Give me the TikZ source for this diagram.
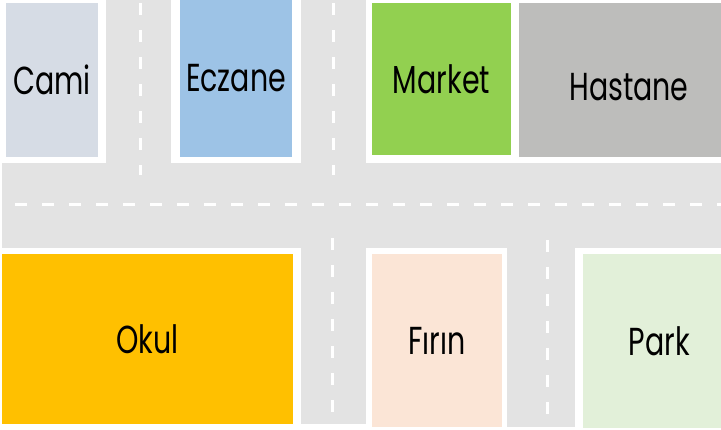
\documentclass[tikz,border=0pt]{standalone}
\usepackage{fontspec}
\setmainfont{Poppins}[FakeStretch=0.73]
\usepackage{tikz}
\definecolor{roadGrey}{HTML}{E3E3E3}
\definecolor{camiBlue}{HTML}{D6DCE5}
\definecolor{eczaneBlue}{HTML}{9DC3E6}
\definecolor{marketGreen}{HTML}{92D050}
\definecolor{hastaneGrey}{HTML}{BDBDBB}
\definecolor{okulYellow}{HTML}{FFC000}
\definecolor{firinPeach}{HTML}{FBE5D6}
\definecolor{parkGreen}{HTML}{E2F0D9}
\tikzset{
    % Roads
    roadPart/.style={fill=roadGrey, draw=none},
    laneLine/.style={draw=white, line width=3pt, dash pattern=on 12pt off 15pt},
    % Buildings
    building/.style={rectangle, draw=none, inner sep=0pt, font=\fontsize{39}{42}\selectfont}
}

\begin{document}
\begin{tikzpicture}[x=1pt, y=-1pt]
        \useasboundingbox (0,0) rectangle (721,430);

        % Roads
        \fill[roadPart] (2,163) rectangle (721,248);
        \fill[roadPart] (106,0) rectangle (171,163);
        \fill[roadPart] (301,0) rectangle (366,163);
        \fill[roadPart] (301,248) rectangle (366,424);
        \fill[roadPart] (507,248) rectangle (575,427);

        % Lane markings
        \draw[laneLine] (15,205) -- (721,205);
        \draw[laneLine] (140,3) -- (140,175);
        \draw[laneLine] (333,3) -- (333,175);
        \draw[laneLine] (332,238) -- (332,412);
        \draw[laneLine] (547,240) -- (547,414);

        % Buildings, top row
        \node[building, fill=camiBlue, minimum width=92pt, minimum height=154pt] (cami) at (52,80) {Cami};
        \node[building, fill=eczaneBlue, minimum width=112pt, minimum height=157pt] (eczane) at (236,78.5) {Eczane};
        \node[building, fill=marketGreen, minimum width=139pt, minimum height=152pt] (market) at (441.5,79) {Market};
        \node[building, fill=hastaneGrey, minimum width=220pt, minimum height=154pt] (hastane) at (629,80) {};
        \node[building] (hastaneLabel) at ([yshift=-7pt]hastane.center) {Hastane};

        % Buildings, bottom row
        \node[building, fill=okulYellow, minimum width=291pt, minimum height=170pt] (okul) at (147.5,339) {Okul};
        \node[building, fill=firinPeach, minimum width=130pt, minimum height=173pt] (firin) at (437,340.5) {Fırın};
        \node[building, fill=parkGreen, minimum width=153pt, minimum height=174pt] (park) at (659.5,341) {Park};
    \end{tikzpicture}
\end{document}
